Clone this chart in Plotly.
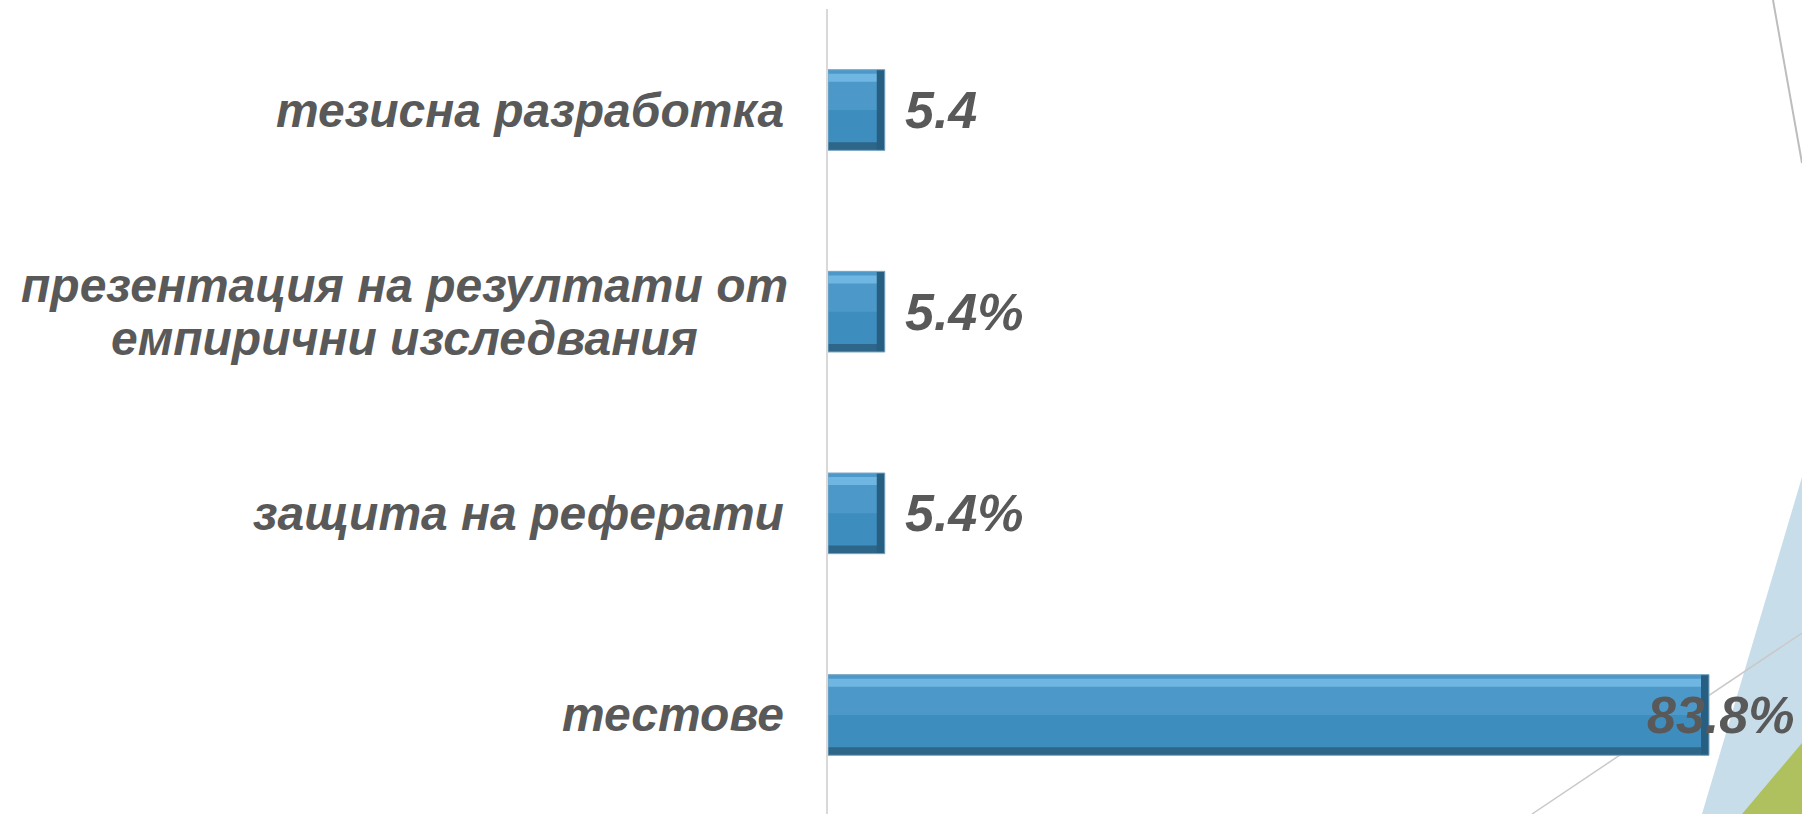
import plotly.graph_objects as go

# ---- data (bottom to top, as plotted) ----
categories = ["тестове", "защита на реферати",
              "презентация на резултати от<br>емпирични изследвания",
              "тезисна разработка"]
values = [83.8, 5.4, 5.4, 5.4]
value_labels = ["83.8%", "5.4%", "5.4%", "5.4"]

W, H = 1802, 814
L, R, T, B = 828, 0, 9, 0
pw, ph = W - L - R, H - T - B
PX_PER_UNIT = 10.513


def px(x):
    return (x - L) / pw


def py(y):
    return (H - B - y) / ph


CAT_FONT = dict(family="Liberation Sans, Arial, sans-serif", size=48,
                color="#595959", weight="bold", style="italic")
VAL_FONT = dict(family="Liberation Sans, Arial, sans-serif", size=52,
                color="#595959", weight="bold", style="italic")

ypos = list(range(len(categories)))
BW = 0.40  # bar thickness in category units
end_units = 8 / PX_PER_UNIT  # right-end bevel depth

fig = go.Figure()
# main body
fig.add_trace(go.Bar(x=values, y=ypos, orientation="h", width=BW,
                     marker=dict(color="#3E8DBF", line=dict(width=0)),
                     hoverinfo="skip"))
# lighter upper half
fig.add_trace(go.Bar(x=values, y=ypos, orientation="h", width=BW / 2,
                     offset=0.0, marker=dict(color="#4C99C9", line=dict(width=0)),
                     hoverinfo="skip"))
# top highlight
fig.add_trace(go.Bar(x=values, y=ypos, orientation="h", width=0.04,
                     offset=BW / 2 - 0.06,
                     marker=dict(color="#6FB6E2", line=dict(width=0)),
                     hoverinfo="skip"))
# bottom shadow
fig.add_trace(go.Bar(x=values, y=ypos, orientation="h", width=0.04,
                     offset=-BW / 2,
                     marker=dict(color="#2D6688", line=dict(width=0)),
                     hoverinfo="skip"))
# right-end bevel
fig.add_trace(go.Bar(x=[end_units] * len(values), y=ypos, orientation="h",
                     base=[v - end_units for v in values], width=BW,
                     marker=dict(color="#265F82", line=dict(width=0)),
                     hoverinfo="skip"))
# outline
fig.add_trace(go.Bar(x=values, y=ypos, orientation="h", width=BW,
                     marker=dict(color="rgba(0,0,0,0)",
                                 line=dict(color="#7FA9C4", width=1)),
                     hoverinfo="skip"))

annotations = []
LABEL_RIGHT = -42   # px from plot-area left edge
for i, (cat, v, lab) in enumerate(zip(categories, values, value_labels)):
    lines = cat.split("<br>")
    if len(lines) == 1:
        annotations.append(dict(
            x=0, xref="paper", y=i, yref="y", text=cat, showarrow=False,
            xanchor="right", yanchor="middle", xshift=LABEL_RIGHT,
            font=CAT_FONT))
    else:
        gap = 53
        n = len(lines)
        for k, line in enumerate(lines):
            annotations.append(dict(
                x=px(404), xref="paper", y=i, yref="y", text=line,
                showarrow=False, xanchor="center", yanchor="middle",
                yshift=((n - 1) / 2 - k) * gap, font=CAT_FONT))
    annotations.append(dict(
        x=v, xref="x", y=i, yref="y", text=lab, showarrow=False,
        xanchor="left", yanchor="middle", xshift=(18 if v < 50 else -64),
        font=VAL_FONT))

shapes = [
    dict(type="path", xref="paper", yref="paper", layer="below",
         path=f"M {px(1802)} {py(477)} L {px(1702)} {py(814)} L {px(1802)} {py(814)} Z",
         fillcolor="#C8DDEA", line=dict(width=0)),
    dict(type="path", xref="paper", yref="paper", layer="below",
         path=f"M {px(1802)} {py(743)} L {px(1742)} {py(814)} L {px(1802)} {py(814)} Z",
         fillcolor="#AFC15E", line=dict(width=0)),
    dict(type="line", xref="paper", yref="paper", layer="below",
         x0=px(1532), y0=py(814), x1=px(1802), y1=py(633),
         line=dict(color="#C9C9C9", width=1.5)),
    dict(type="line", xref="paper", yref="paper", layer="below",
         x0=px(1773), y0=py(0), x1=px(1802), y1=py(163),
         line=dict(color="#BDBDBD", width=2)),
]

fig.update_layout(
    width=W, height=H,
    margin=dict(l=L, r=R, t=T, b=B, pad=0),
    paper_bgcolor="white", plot_bgcolor="rgba(0,0,0,0)",
    showlegend=False, barmode="overlay",
    annotations=annotations, shapes=shapes,
    xaxis=dict(range=[0, pw / PX_PER_UNIT], visible=False, showgrid=False,
               zeroline=False),
    yaxis=dict(range=[-0.491, 3.501], showticklabels=False, showgrid=False,
               zeroline=False, showline=True, linecolor="#D9D9D9", linewidth=2,
               ticks=""),
)

fig.write_html("out.html")
